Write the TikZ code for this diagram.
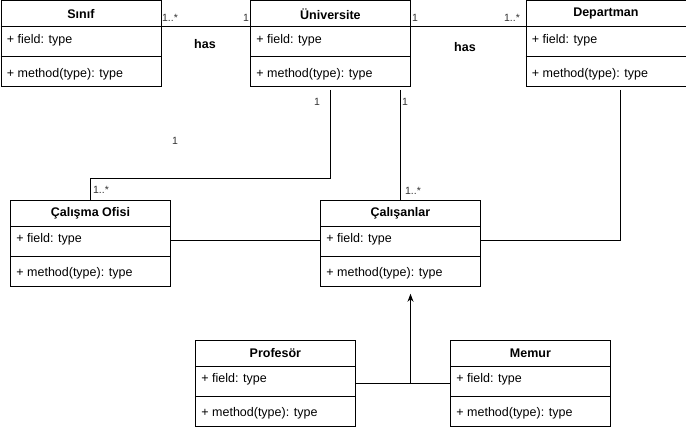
\documentclass[tikz,border=0pt]{standalone}
\usepackage{fontspec}
\setmainfont{Liberation Sans}
\usetikzlibrary{arrows.meta}
\begin{document}
\begin{tikzpicture}[x=1pt, y=-1pt, line width=0.8pt,
  classbox/.style={draw, fill=white, anchor=north west, minimum width=160pt, minimum height=86pt, inner sep=0pt},
  classtitle/.style={font=\bfseries},
  member/.style={anchor=west, inner sep=0pt},
  mult/.style={inner sep=1pt, font=\fontsize{10.5}{12}\selectfont, text=black!80},
  rel/.style={font=\bfseries}]

  \fontsize{12.5}{14}\selectfont
  \useasboundingbox (0,0) rectangle (686,430);

  \newcommand\umlclass[4]{%
    \node[classbox] (#1) at (#2,#3) {};
    \node[classtitle] (#1-t) at ([yshift=-13.5pt]#1.north) {#4};
    \node[member] (#1-f) at ([xshift=6pt, yshift=-39.5pt]#1.north west) {+ field: type};
    \node[member] (#1-m) at ([xshift=6pt, yshift=-73.5pt]#1.north west) {+ method(type): type};
    \draw ([yshift=-26pt]#1.north west) -- ([yshift=-26pt]#1.north east);
    \draw ([yshift=-56pt]#1.north west) -- ([yshift=-56pt]#1.north east);}

  \umlclass{sinif}{0.5}{0.5}{Sınıf}
  \umlclass{univ}{250}{0.5}{Üniversite}
  \umlclass{dept}{525.5}{0.5}{Departman}
  \umlclass{ofis}{10}{200}{Çalışma Ofisi}
  \umlclass{calis}{320}{200}{Çalışanlar}
  \umlclass{prof}{195}{340}{Profesör}
  \umlclass{memur}{450}{340}{Memur}

  %% Sinif -- Universite
  \draw ([yshift=-26pt]sinif.north east) -- ([yshift=-26pt]univ.north west);
  \node[mult] (m1) at (170,18) {1..*};
  \node[mult] (m2) at (246,18) {1};
  \node[rel] (has1) at (205,44) {has};

  %% Universite -- Departman
  \draw ([yshift=-26pt]univ.north east) -- ([yshift=-26pt]dept.north west);
  \node[mult] (m3) at (415,18) {1};
  \node[mult] (m4) at (512,18) {1..*};
  \node[rel] (has2) at (465,47) {has};

  %% Universite -- Calisma Ofisi
  \coordinate (u1) at (330,90);
  \coordinate (o1) at (90.5,178);
  \draw (u1) |- (o1) -- (ofis.north -| o1);
  \node[mult] (m5) at (317,102) {1};
  \node[mult] (m6) at (101,190) {1..*};
  \node[mult] (m7) at (175,141) {1};

  %% Universite -- Calisanlar
  \coordinate (u2) at (400.5,90);
  \draw (u2) -- (calis.north -| u2);
  \node[mult] (m8) at (405,102) {1};
  \node[mult] (m9) at (413,191) {1..*};

  %% Departman -- Calisanlar
  \coordinate (d1) at (620.5,90);
  \draw (d1) |- ([yshift=-40pt]calis.north east);

  %% Calisma Ofisi -- Calisanlar
  \draw ([yshift=-40pt]ofis.north east) -- ([yshift=-40pt]calis.north west);

  %% Profesor, Memur -> Calisanlar
  \coordinate (g1) at (410.5,383);
  \draw ([yshift=-43pt]prof.north east) -- ([yshift=-43pt]memur.north west);
  \draw[-{Stealth[length=8pt, width=6pt]}] (g1) -- ([yshift=-7pt]calis.south -| g1);
\end{tikzpicture}
\end{document}
